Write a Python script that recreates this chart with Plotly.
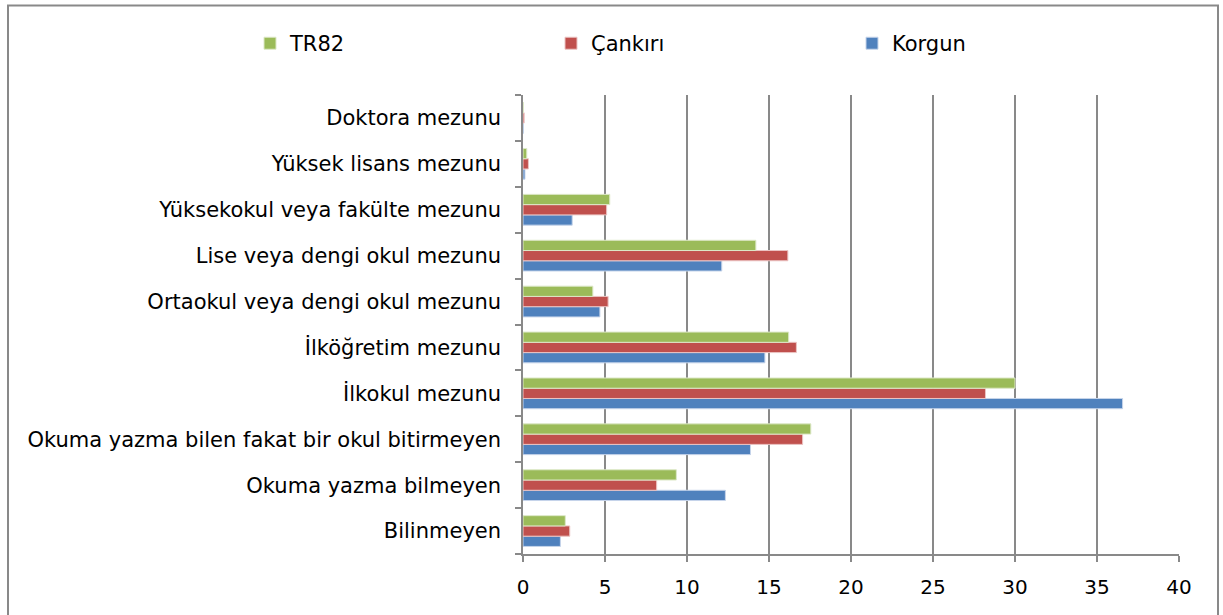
import plotly.graph_objects as go

categories = ["Bilinmeyen", "Okuma yazma bilmeyen", "Okuma yazma bilen fakat bir okul bitirmeyen",
              "İlkokul mezunu", "İlköğretim mezunu", "Ortaokul veya dengi okul mezunu",
              "Lise veya dengi okul mezunu", "Yüksekokul veya fakülte mezunu",
              "Yüksek lisans mezunu", "Doktora mezunu"]
tr82 = [2.58, 9.35, 17.55, 30.0, 16.2, 4.26, 14.2, 5.29, 0.23, 0.03]
cankiri = [2.85, 8.15, 17.05, 28.2, 16.67, 5.19, 16.15, 5.1, 0.33, 0.07]
korgun = [2.28, 12.34, 13.87, 36.56, 14.75, 4.69, 12.12, 3.0, 0.12, 0.02]
x_ticks = [0, 5, 10, 15, 20, 25, 30, 35, 40]

W, H = 1223, 615
L, R, T, B = 523, 44, 95, 60.5
pw, ph = W - L - R, H - T - B

font = "DejaVu Sans, sans-serif"

fig = go.Figure()
for name, vals, col, edge in [("Korgun", korgun, "#4F81BD", "#C6D4EA"),
                              ("Çankırı", cankiri, "#C0504D", "#EBC4C3"),
                              ("TR82", tr82, "#9BBB59", "#DDE8C8")]:
    fig.add_trace(go.Bar(y=categories, x=vals, name=name, orientation="h",
                         marker=dict(color=col, line=dict(color=edge, width=1))))

def px_x(p):
    return (p - L) / pw

def px_y(p):
    return 1 - (p - T) / ph

fig.update_layout(
    width=W, height=H,
    margin=dict(l=L, r=R, t=T, b=B, autoexpand=False),
    paper_bgcolor="white", plot_bgcolor="white",
    barmode="group", bargap=0.33, bargroupgap=0,
    font=dict(family=font, size=21, color="black"),
    legend=dict(orientation="h", traceorder="reversed", x=px_x(250), y=px_y(23),
                xanchor="left", yanchor="top", font=dict(size=21),
                itemwidth=30, entrywidth=256, entrywidthmode="pixels"),
    xaxis=dict(range=[0, 40], tickvals=x_ticks, ticktext=[str(v) for v in x_ticks],
               showgrid=True, gridcolor="#898989", gridwidth=1.5,
               showline=True, linecolor="#898989", linewidth=1.5,
               ticks="outside", ticklen=6, tickcolor="#898989", tickwidth=1.5,
               zeroline=False, tickfont=dict(size=20), ticklabelstandoff=8),
    yaxis=dict(showline=True, linecolor="#898989", linewidth=1.5,
               ticks="outside", ticklen=6, tickcolor="#898989", tickwidth=1.5,
               tickson="boundaries", showgrid=False, tickfont=dict(size=21),
               ticklabelstandoff=16, range=[-0.5, 9.5]),
    shapes=[dict(type="rect", xref="paper", yref="paper",
                 x0=px_x(8), x1=px_x(1218), y0=px_y(630), y1=px_y(5.5),
                 line=dict(color="#898989", width=2), layer="below")],
)

fig.write_html("out.html", config={"displayModeBar": False},
               post_script="document.body.style.margin='0';")
